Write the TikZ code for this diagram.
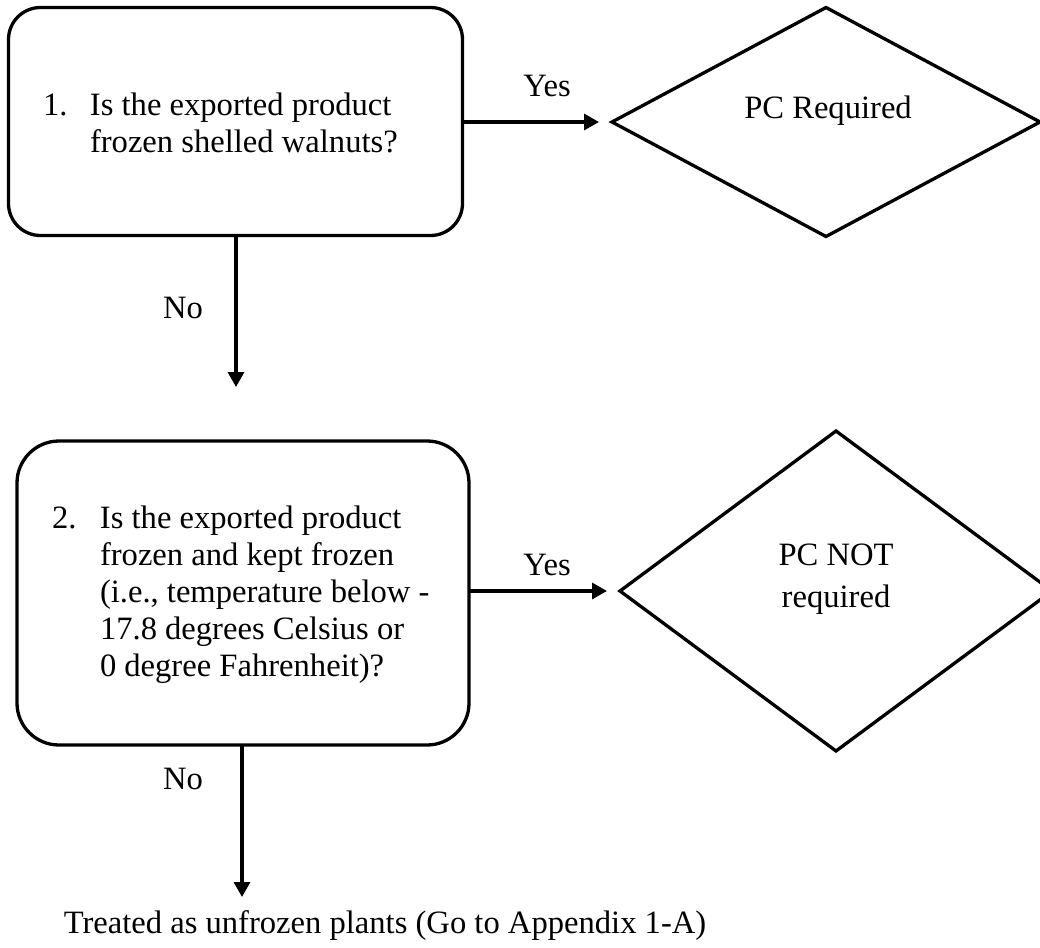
\documentclass[tikz,border=0pt]{standalone}
\usepackage{fontspec}
\setmainfont{Liberation Serif}
\usetikzlibrary{shapes.geometric,arrows.meta,calc}
\begin{document}
\begin{tikzpicture}[x=1pt,y=-1pt,
  font=\fontsize{32.6}{37}\selectfont,
  every node/.style={inner sep=0pt, outer sep=0pt},
  qbox/.style={draw, line width=3.3pt, rectangle},
  dbox/.style={draw, line width=3.3pt, diamond},
  txt/.style={anchor=base west, align=left},
  lbl/.style={anchor=base},
  arr/.style={line width=3.3pt, -{Triangle[length=15pt,width=16pt]}}]
\useasboundingbox (0,0) rectangle (1040,947);
\begin{scope}
\clip (0,0) rectangle (1040,947);
% boxes
\node[qbox, rounded corners=32pt, minimum width=454pt, minimum height=228pt] (q1) at (235.5,121.5) {};
\node[qbox, rounded corners=42pt, minimum width=452pt, minimum height=304pt] (q2) at (243,593) {};
\node[dbox, minimum width=428pt, minimum height=229pt] (d1) at (826,122) {};
\node[dbox, minimum width=432pt, minimum height=320pt] (d2) at (836,591) {};
\end{scope}
% texts
\node[txt] (t1) at (43,115) {\begin{tabular}[t]{@{}p{47pt}@{}l@{}}1.&Is the exported product\\&frozen shelled walnuts?\end{tabular}};
\node[txt] (t2) at (52,528) {\begin{tabular}[t]{@{}p{48pt}@{}l@{}}2.&Is the exported product\\&frozen and kept frozen\\&(i.e., temperature below -\\&17.8 degrees Celsius or\\&0 degree Fahrenheit)?\end{tabular}};
\node[lbl] (r1) at (828,118) {PC Required};
\node[lbl] (r2a) at (836,565) {PC NOT};
\node[lbl] (r2b) at (836,607) {required};
\node[lbl] (y1) at (547,97) {Yes};
\node[lbl] (y2) at (547,575) {Yes};
\node[lbl] (n1) at (183,318) {No};
\node[lbl] (n2) at (183,789) {No};
\node[lbl] (fin) at (385,933) {Treated as unfrozen plants (Go to Appendix 1-A)};
% connectors
\coordinate (e1) at (236,387);
\coordinate (e2) at (242,897);
\draw[arr, shorten >=13pt] (q1.east |- d1.west) -- (d1.west);
\draw[arr, shorten >=13pt] (q2.east |- d2.west) -- (d2.west);
\draw[arr] (q1.south -| e1) -- (e1);
\draw[arr] (q2.south -| e2) -- (e2);
\end{tikzpicture}
\end{document}
